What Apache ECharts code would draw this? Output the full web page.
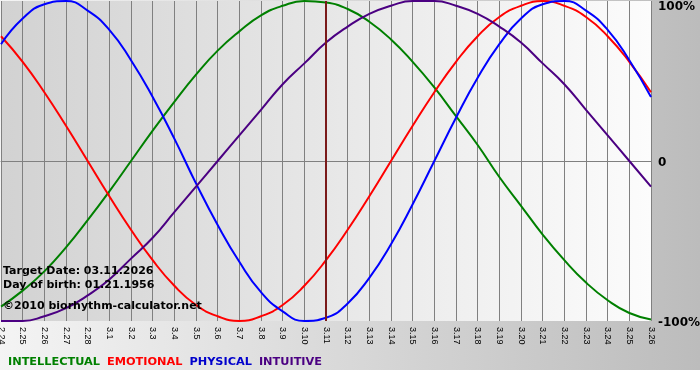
<!DOCTYPE html>
<html><head><meta charset="utf-8">
<script src="https://cdn.jsdelivr.net/npm/echarts@6/dist/echarts.min.js"></script>
<style>html,body{margin:0;padding:0;background:#fff;}#c{width:700px;height:370px;}</style>
</head><body><div id="c"></div>
<script>
var days = ['2.24','2.25','2.26','2.27','2.28','3.1','3.2','3.3','3.4','3.5','3.6','3.7','3.8','3.9','3.10','3.11','3.12','3.13','3.14','3.15','3.16','3.17','3.18','3.19','3.20','3.21','3.22','3.23','3.24','3.25','3.26'];
var intellectual = [-0.91,-0.81,-0.69,-0.54,-0.37,-0.19,0.00,0.19,0.37,0.54,0.69,0.81,0.91,0.97,1.00,0.99,0.95,0.87,0.76,0.62,0.46,0.28,0.10,-0.10,-0.28,-0.46,-0.62,-0.76,-0.87,-0.95,-0.99];
var emotional = [0.78,0.62,0.43,0.22,0.00,-0.22,-0.43,-0.62,-0.78,-0.90,-0.97,-1.00,-0.97,-0.90,-0.78,-0.62,-0.43,-0.22,0.00,0.22,0.43,0.62,0.78,0.90,0.97,1.00,0.97,0.90,0.78,0.62,0.43];
var physical = [0.73,0.89,0.98,1.00,0.94,0.82,0.63,0.40,0.14,-0.14,-0.40,-0.63,-0.82,-0.94,-1.00,-0.98,-0.89,-0.73,-0.52,-0.27,0.00,0.27,0.52,0.73,0.89,0.98,1.00,0.94,0.82,0.63,0.40];
var intuitive = [-1.00,-1.00,-0.97,-0.92,-0.84,-0.74,-0.61,-0.48,-0.32,-0.16,0.00,0.16,0.32,0.48,0.61,0.74,0.84,0.92,0.97,1.00,1.00,0.97,0.92,0.84,0.74,0.61,0.48,0.32,0.16,0.00,-0.16];
var targetDay = '3.11';
var yLabels = {'1':'100%','0':'0','-1':'-100%'};
var infoLines = ['Target Date: 03.11.2026','Day of birth: 01.21.1956'];
var copyright = '\u00a92010 biorhythm-calculator.net';

var chart = echarts.init(document.getElementById('c'));
var G = echarts.graphic;
function ser(name, data, color){
  return {name:name, type:'line', data:data, smooth:true, symbol:'none',
    lineStyle:{color:color, width:2}, itemStyle:{color:color}, z:3};
}
var series = [
  ser('INTELLECTUAL', intellectual, '#008000'),
  ser('EMOTIONAL', emotional, '#ff0000'),
  ser('PHYSICAL', physical, '#0000ff'),
  ser('INTUITIVE', intuitive, '#4b0082')
];
series[0].markLine = {symbol:'none', silent:true, label:{show:false},
  lineStyle:{color:'#7a1a1a', width:2, type:'solid'},
  data:[{xAxis:targetDay}]};
chart.setOption({
  animation:false,
  backgroundColor: new G.LinearGradient(0,0,1,0,[{offset:0,color:'#f4f4f4'},{offset:1,color:'#bcbcbc'}]),
  textStyle:{fontFamily:'DejaVu Sans'},
  grid:{left:1, top:1, width:650, height:320, show:true, borderWidth:0, outerBoundsMode:'none', containLabel:false,
    backgroundColor: new G.LinearGradient(0,0,1,0,[{offset:0,color:'#d2d2d2'},{offset:1,color:'#fcfcfc'}])},
  legend:{left:3, top:355, icon:'none', itemWidth:0, itemGap:2, padding:0,
    textStyle:{fontFamily:'DejaVu Sans', fontWeight:'bold', fontSize:11.3},
    data:[
      {name:'INTELLECTUAL', textStyle:{color:'#008000'}},
      {name:'EMOTIONAL', textStyle:{color:'#ff0000'}},
      {name:'PHYSICAL', textStyle:{color:'#0000cc'}},
      {name:'INTUITIVE', textStyle:{color:'#4b0082'}}
    ]},
  xAxis:{type:'category', data:days, boundaryGap:false,
    axisLine:{show:true, lineStyle:{color:'#808080', width:1}},
    axisTick:{show:true, length:5, alignWithLabel:true, lineStyle:{color:'#808080'}},
    splitLine:{show:true, lineStyle:{color:'#808080', width:1}},
    axisLabel:{interval:0, rotate:-90, margin:6, fontFamily:'Liberation Sans', fontSize:9, color:'#000'}},
  yAxis:{type:'value', position:'right', min:-1, max:1, interval:1,
    axisLine:{show:false}, axisTick:{show:false},
    splitLine:{show:true, lineStyle:{color:['transparent','#808080','transparent'], width:1}},
    axisLabel:{margin:7, fontFamily:'DejaVu Sans', fontWeight:'bold', fontSize:12, color:'#000',
      formatter:function(v){ var s = yLabels[String(v)]; return v===1 ? '{t|'+s+'}' : (v===-1 ? '{b|'+s+'}' : '{m|'+s+'}'); },
      rich:{t:{padding:[12,0,0,0], fontWeight:'bold', fontSize:12, color:'#000'},
            m:{padding:[3,0,0,0], fontWeight:'bold', fontSize:12, color:'#000'},
            b:{padding:[4,0,0,0], fontWeight:'bold', fontSize:12, color:'#000'}}}},
  graphic:[
    {type:'text', left:3, top:266, style:{text:infoLines[0], font:'bold 11px "DejaVu Sans"', fill:'#000'}, z:10},
    {type:'text', left:3, top:280, style:{text:infoLines[1], font:'bold 11px "DejaVu Sans"', fill:'#000'}, z:10},
    {type:'text', left:3, top:301, style:{text:copyright, font:'bold 11px "DejaVu Sans"', fill:'#000'}, z:10}
  ],
  series:series
});
</script></body></html>
